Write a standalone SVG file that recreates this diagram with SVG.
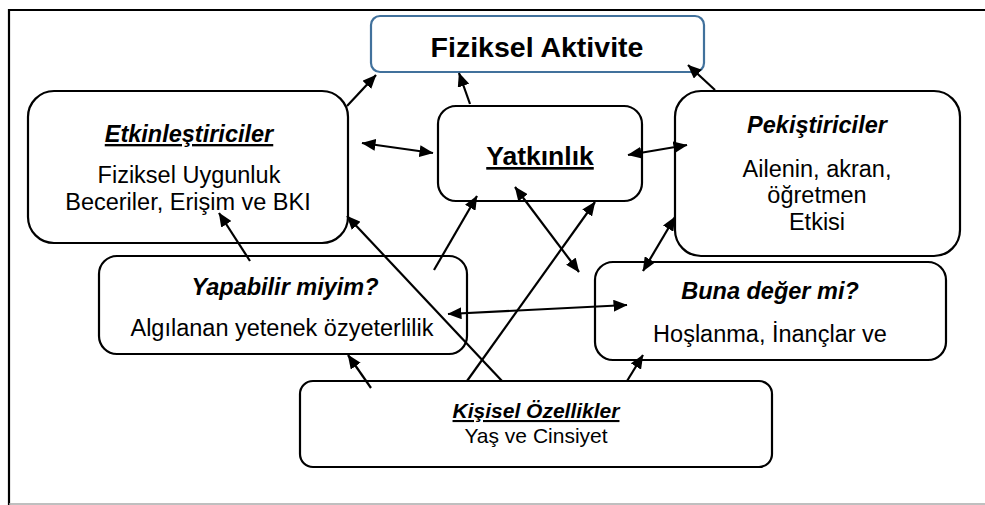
<svg xmlns="http://www.w3.org/2000/svg" width="985" height="505" viewBox="0 0 985 505">
<style>
.box{fill:#fff;stroke:#000;stroke-width:2.2}
.t{font-family:"Liberation Sans",Arial,sans-serif;text-anchor:middle;fill:#000}
.ti{font-size:23.5px;font-weight:bold;font-style:italic}
.b{font-size:23.5px}
.u{text-decoration:underline}
.c line{stroke:#000;stroke-width:2.2;fill:none}
</style>
<defs>
<marker id="ah" viewBox="0 0 14 12" refX="13.5" refY="6" markerWidth="14" markerHeight="12" markerUnits="userSpaceOnUse" orient="auto-start-reverse">
<path d="M0,0 L14,6 L0,12 z" fill="#000"/>
</marker>
</defs>
<rect x="0" y="0" width="985" height="505" fill="#fff"/>
<path d="M9,505 V10 H985" fill="none" stroke="#000" stroke-width="2.2"/>
<line x1="9" y1="504" x2="985" y2="504" stroke="#aaa" stroke-width="1.5"/>

<g id="fiziksel-aktivite">
<rect x="371" y="16" width="333" height="56" rx="9" fill="#fff" stroke="#41719C" stroke-width="2.2"/>
<text class="t" x="537" y="57" font-size="28.5" font-weight="bold">Fiziksel Aktivite</text>
</g>

<g id="etkinlestiriciler">
<rect class="box" x="28" y="91" width="320" height="152" rx="26"/>
<text class="t ti u" x="189" y="142">Etkinleştiriciler</text>
<text class="t b" x="189" y="183">Fiziksel Uygunluk</text>
<text class="t b" x="188" y="210">Beceriler, Erişim ve BKI</text>
</g>

<g id="yatkinlik">
<rect class="box" x="438" y="106" width="204" height="95" rx="18"/>
<text class="t u" x="540" y="165" font-size="26.5" font-weight="bold">Yatkınlık</text>
</g>

<g id="pekistiriciler">
<rect class="box" x="675" y="91" width="285" height="165" rx="26"/>
<text class="t ti" x="817" y="133">Pekiştiriciler</text>
<text class="t b" x="817" y="177">Ailenin, akran,</text>
<text class="t b" x="817" y="203">öğretmen</text>
<text class="t b" x="817" y="230">Etkisi</text>
</g>

<g id="yapabilir-miyim">
<rect class="box" x="99" y="256" width="368" height="98" rx="18"/>
<text class="t ti" x="285" y="295">Yapabilir miyim?</text>
<text class="t b" x="282" y="336">Algılanan yetenek özyeterlilik</text>
</g>

<g id="buna-deger-mi">
<rect class="box" x="595" y="262" width="351" height="98" rx="18"/>
<text class="t ti" x="770" y="299">Buna değer mi?</text>
<text class="t b" x="770" y="342">Hoşlanma, İnançlar ve</text>
</g>

<g id="kisisel-ozellikler">
<rect class="box" x="300" y="381" width="472" height="86" rx="13"/>
<text class="t u" x="536" y="418" font-size="21" font-weight="bold" font-style="italic">Kişisel Özellikler</text>
<text class="t" x="536" y="443" font-size="21">Yaş ve Cinsiyet</text>
</g>

<g class="c">
<line x1="347" y1="106" x2="376" y2="75" marker-end="url(#ah)"/>
<line x1="470" y1="104" x2="459" y2="73" marker-end="url(#ah)"/>
<line x1="715" y1="90" x2="688" y2="65" marker-end="url(#ah)"/>
<line x1="362" y1="143" x2="433" y2="153" marker-start="url(#ah)" marker-end="url(#ah)"/>
<line x1="628" y1="155" x2="687" y2="145" marker-start="url(#ah)" marker-end="url(#ah)"/>
<line x1="250" y1="261" x2="219" y2="213" marker-end="url(#ah)"/>
<line x1="502" y1="381" x2="347" y2="216" marker-end="url(#ah)"/>
<line x1="434" y1="270" x2="477" y2="196" marker-end="url(#ah)"/>
<line x1="467" y1="381" x2="595" y2="202" marker-end="url(#ah)"/>
<line x1="515" y1="187" x2="579" y2="272" marker-start="url(#ah)" marker-end="url(#ah)"/>
<line x1="675" y1="217" x2="643" y2="271" marker-start="url(#ah)" marker-end="url(#ah)"/>
<line x1="448" y1="314" x2="627" y2="305" marker-start="url(#ah)" marker-end="url(#ah)"/>
<line x1="371" y1="388" x2="348" y2="355" marker-end="url(#ah)"/>
<line x1="627" y1="381" x2="643" y2="355" marker-end="url(#ah)"/>
</g>
</svg>
